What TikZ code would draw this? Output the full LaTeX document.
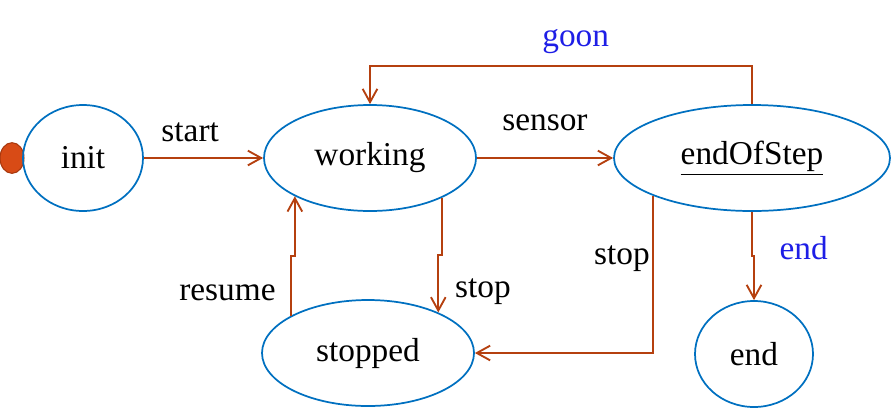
\documentclass[tikz,border=0pt]{standalone}
\usepackage{fontspec}
\setmainfont{Liberation Serif}
\definecolor{stateblue}{RGB}{0, 112, 192}
\definecolor{transred}{RGB}{181, 64, 15}
\definecolor{dotfill}{RGB}{216, 75, 22}
\definecolor{dotline}{RGB}{168, 56, 14}
\definecolor{lblblue}{RGB}{30, 30, 230}
\usepackage{tikz}
\usetikzlibrary{shapes.geometric, arrows.meta, positioning, calc}

\begin{document}
\begin{tikzpicture}[x=0.75pt, y=-0.75pt,
  state/.style={draw=stateblue, line width=1.3pt, ellipse, inner sep=0pt, minimum height=79.5pt, font=\fontsize{25}{30}\selectfont},
  trans/.style={draw=transred, line width=1.4pt, -{Straight Barb[length=10pt, width=11pt]}},
  lbl/.style={font=\fontsize{25}{30}\selectfont, inner sep=2pt}]
  \useasboundingbox (0,0) rectangle (891,408);

  % States
  \node[draw=dotline, fill=dotfill, ellipse, line width=0.8pt, minimum width=18pt, minimum height=23pt, inner sep=0pt] (dot) at (12,158) {};
  \node[state, minimum width=90pt] (init) at (83,158) {init};
  \node[state, minimum width=159pt] (working) at (370,158) {working};
  \node[state, minimum width=207pt] (eos) at (752,158) {\underline{endOfStep}};
  \node[state, minimum width=159pt] (stopped) at (368,353) {stopped};
  \node[state, minimum width=88.5pt] (end) at (754,354) {end};

  % Transitions
  \draw[trans] (init.east) -- node[lbl, above, xshift=-10pt, yshift=9.5pt] {start} (working.west);
  \draw[trans] (working.east) -- node[lbl, above, yshift=18pt] {sensor} (eos.west);
  \draw[trans] (eos.north) -- ++(0,-38) coordinate (goonA) -- node[lbl, above, text=lblblue, xshift=11pt, yshift=6.5pt] {goon} (goonA -| working.north) -- (working.north);
  \draw[trans] (eos.south) |- node[lbl, pos=0.41, right, text=lblblue, xshift=18pt] {end} ($(eos.south)!.5!(end.north)$) -| (end.north);

  % Stop / resume
  \draw[trans] (working.-29.5) |- ($(working.-29.5)!.5!(stopped.30)$) -| node[lbl, pos=0.82, right, xshift=10pt] {stop} (stopped.30);
  \draw[trans] (stopped.154) |- node[lbl, pos=0.19, left, xshift=-9pt] {resume} ($(stopped.154)!.5!(working.207)$) -| (working.207);
  \draw[trans] (eos.201) |- node[lbl, pos=0.2, left] {stop} (stopped.east);
\end{tikzpicture}
\end{document}
